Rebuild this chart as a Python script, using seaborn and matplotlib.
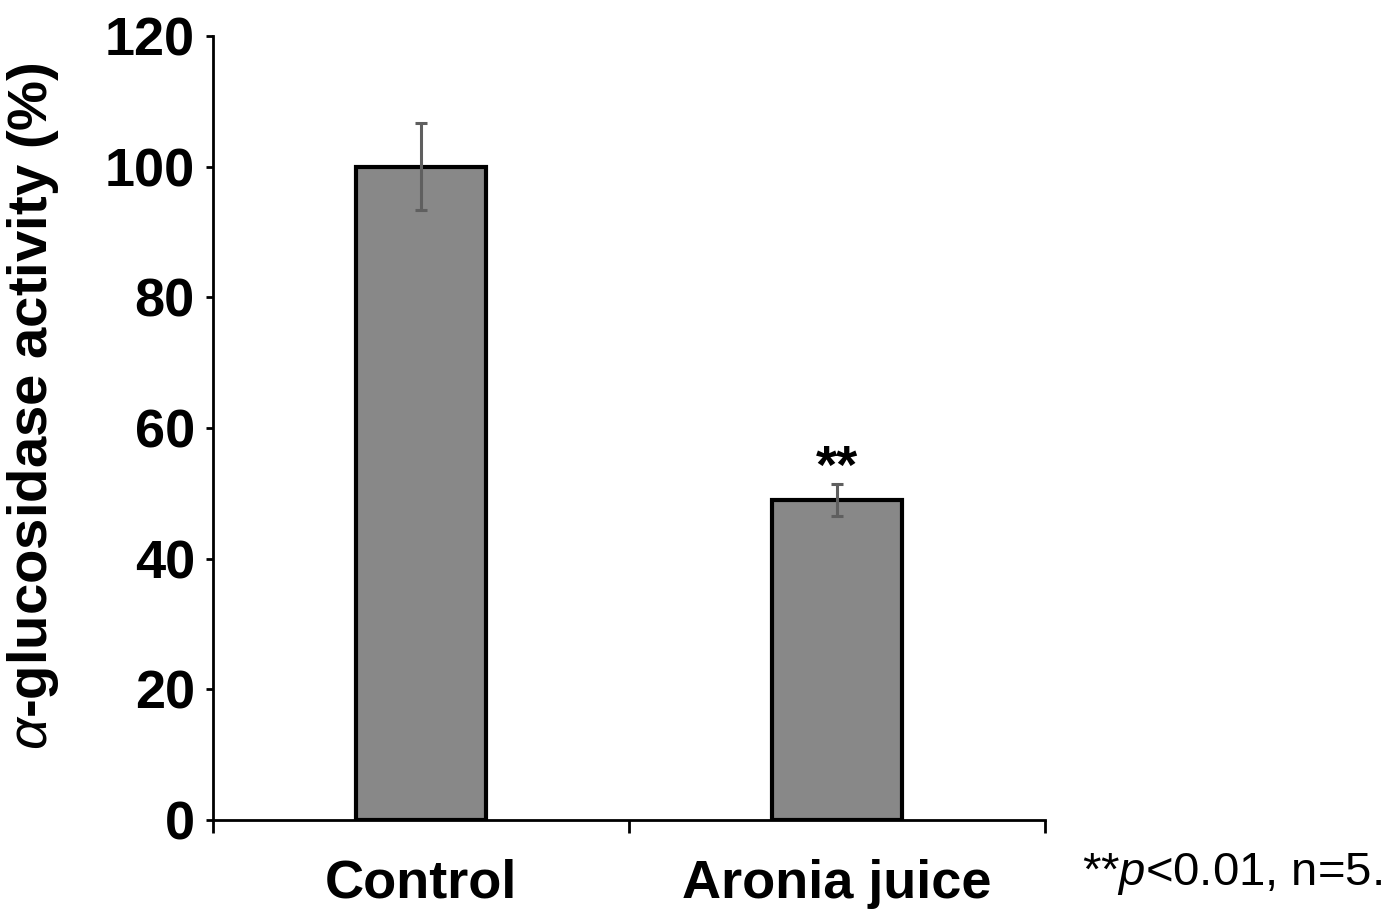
import numpy as np
import pandas as pd
import matplotlib
matplotlib.use("Agg")
import matplotlib.pyplot as plt
import seaborn as sns

# data
groups = ["Control", "Aronia juice"]
activity = [100.0, 49.0]
sem = [6.7, 2.4]
stars = ["", "**"]

yticks = [0, 20, 40, 60, 80, 100, 120]

df = pd.DataFrame({"group": groups, "activity": activity})

sns.set_style("white")
plt.rcParams["font.family"] = ["Liberation Sans", "DejaVu Sans"]
plt.rcParams["mathtext.fontset"] = "custom"
plt.rcParams["mathtext.rm"] = "Liberation Sans"
plt.rcParams["mathtext.it"] = "Liberation Sans:italic"
plt.rcParams["text.color"] = "black"
plt.rcParams["axes.labelcolor"] = "black"
plt.rcParams["xtick.color"] = "black"
plt.rcParams["ytick.color"] = "black"

fig = plt.figure(figsize=(13.91, 9.16), dpi=100)
ax = fig.add_axes([213 / 1391, 1 - 820 / 916, 832 / 1391, 784 / 916])

sns.barplot(data=df, x="group", y="activity", ax=ax, width=0.3125,
            color="#888888", saturation=1, edgecolor="black", linewidth=3,
            errorbar=None)

xpos = np.arange(len(groups))
ax.errorbar(xpos, activity, yerr=sem, fmt="none", ecolor="#5f5f5f",
            elinewidth=2.2, capsize=4, capthick=2.2, zorder=5)

for x, v, e, s in zip(xpos, activity, sem, stars):
    if s:
        ax.text(x, v + e - 1.5, s, ha="center", va="bottom",
                fontsize=39, fontweight="bold")

ax.set_xlim(-0.5, 1.5)
ax.set_ylim(0, 120)
ax.set_yticks(yticks)
ax.set_yticklabels([str(t) for t in yticks], fontsize=39, fontweight="bold")
ax.set_xticklabels(groups, fontsize=39, fontweight="bold")
ax.set_xlabel("")
ax.set_ylabel(r"$\alpha$-glucosidase activity (%)", fontsize=40.5,
              fontweight="bold")
ax.yaxis.set_label_coords(-0.183, 0.528)

# category boundary ticks like the original
ax.set_xticks([-0.5, 0.5, 1.5], minor=True)
ax.tick_params(axis="x", which="major", length=0, pad=28)
ax.tick_params(axis="x", which="minor", direction="out", length=9,
               width=2, color="black", bottom=True)
ax.tick_params(axis="y", direction="out", length=5, width=2,
               color="black", left=True, pad=8)

sns.despine(ax=ax)
for sp in ["left", "bottom"]:
    ax.spines[sp].set_linewidth(2)
    ax.spines[sp].set_color("black")

fig.text(1082 / 1391, 1 - 885 / 916, r"**$p$<0.01, n=5.", fontsize=34,
         ha="left", va="baseline")

fig.savefig("out.png", dpi=100)
